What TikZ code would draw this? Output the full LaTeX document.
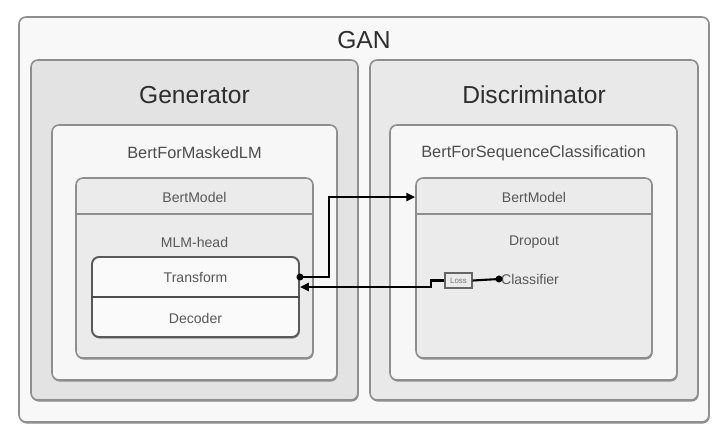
\documentclass[tikz,border=0pt]{standalone}
\usepackage{fontspec}
\setmainfont{Liberation Sans}
\usepackage{xcolor}
\usepackage{tikz}
\usetikzlibrary{arrows.meta,positioning,fit,shadows}

\definecolor{ganbg}{HTML}{F8F8F8}
\definecolor{netbg}{HTML}{E3E3E3}
\definecolor{wrapbg}{HTML}{F7F7F7}
\definecolor{bertbg}{HTML}{EBEBEB}
\definecolor{partbg}{HTML}{FAFAFA}
\definecolor{edge}{HTML}{8E8E8E}
\definecolor{ink}{HTML}{2E2E2E}

\begin{document}
\begin{tikzpicture}[
    x=0.02cm, y=-0.02cm,
    frm/.style={rectangle, draw=edge, line width=0.9pt, rounded corners=4pt, inner sep=0pt,
                drop shadow={shadow xshift=0.4pt, shadow yshift=-0.9pt, fill=black!45, opacity=1}},
    big/.style={font=\fontsize{14}{16}\selectfont, text=ink},
    mid/.style={font=\fontsize{9.3}{11}\selectfont, text=ink!85},
    sml/.style={font=\fontsize{8}{10}\selectfont, text=ink!80},
    arr/.style={-{Triangle[length=5pt, width=4.5pt]}, line width=1.2pt},
    dot/.style={circle, fill=black, inner sep=0pt, minimum size=4pt}
  ]
  \useasboundingbox (0,0) rectangle (716,430);
  % frames, outside in
  \node[frm, fill=ganbg, fit={(19,17)(709,422)}] (gan) {};
  \node[frm, fill=netbg, fit={(31,60)(358,400)}] (gen) {};
  \node[frm, fill=netbg!80!white, fit={(370,60)(698,400)}] (disc) {};
  \node[frm, fill=wrapbg, fit={(52,125)(337,380)}] (mlm) {};
  \node[frm, fill=wrapbg, fit={(390,125)(677,380)}] (seq) {};
  \node[frm, fill=bertbg, fit={(76,178)(313,358)}] (bertL) {};
  \node[frm, fill=bertbg, fit={(416,178)(652,358)}] (bertR) {};
  \draw[edge, line width=0.9pt] ([yshift=-0.74cm]bertL.north west) -- ([yshift=-0.74cm]bertL.north east);
  \draw[edge, line width=0.9pt] ([yshift=-0.74cm]bertR.north west) -- ([yshift=-0.74cm]bertR.north east);
  \node[frm, fill=partbg, draw=black!65, line width=1.1pt, fit={(92,257)(299,337)}] (trdec) {};
  \draw[black!70, line width=1.3pt] (trdec.west) -- (trdec.east);

  % titles
  \node[big] (gantxt) at (364,40) {GAN};
  \node[big] (gentxt) at (194.5,95) {Generator};
  \node[big] (distxt) at (534,95) {Discriminator};
  \node[mid] (mlmtxt) at (194.5,153) {BertForMaskedLM};
  \node[mid] (seqtxt) at (533.5,153) {BertForSequenceClassification};
  \node[sml] (bertLtxt) at (194.5,197) {BertModel};
  \node[sml] (bertRtxt) at (534,197) {BertModel};
  \node[sml] (headtxt) at (194.5,242) {MLM-head};
  \node[sml] (droptxt) at (534,242) {Dropout};
  \node[sml] (tr) at (195.5,277) {Transform};
  \node[sml] (dec) at (195.5,318) {Decoder};
  \node[sml, anchor=west, inner sep=1pt] (clf) at (499,279) {Classifier};
  \node[rectangle, draw=black!60, fill=bertbg, line width=0.8pt, minimum width=0.54cm,
        minimum height=0.3cm, inner sep=0pt, font=\fontsize{4.5}{5}\selectfont, text=black!55]
        (loss) at (458.5,280.5) {Loss};

  % connectors
  \coordinate (trdot) at (trdec.east |- tr);
  \draw[arr] (trdot) -- ++(29,0) |- (bertR.west |- bertRtxt);
  \node[dot] at (trdot) {};
  \draw[line width=1.2pt] (clf.west) -- (loss.east);
  \node[dot] at (clf.west) {};
  \draw[arr] (loss.west) -- ++(-13,0) |- ([yshift=-0.2cm]trdot);
\end{tikzpicture}
\end{document}
